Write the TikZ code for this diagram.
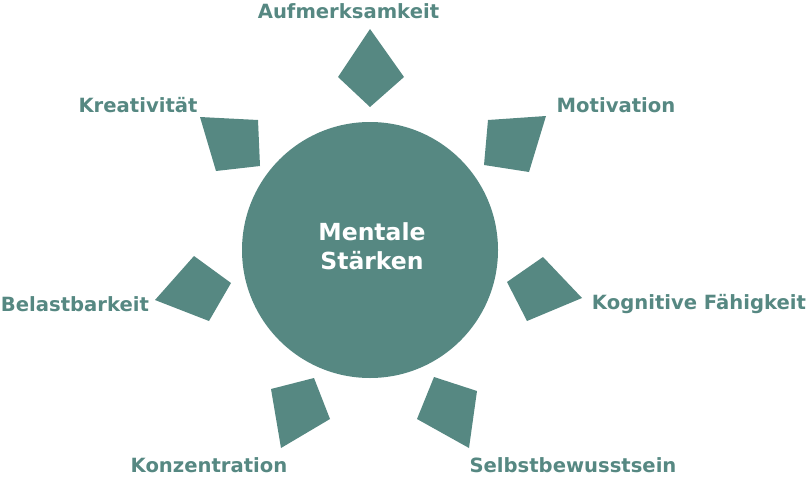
\documentclass[tikz,border=0pt]{standalone}
\usepackage{fontspec}
\setmainfont{DejaVu Sans}
\definecolor{teal1}{HTML}{568882}
\begin{document}
\begin{tikzpicture}[x=1pt,y=-1pt,
  lbl/.style={text=teal1,font=\fontsize{19.6}{23}\selectfont\bfseries,inner sep=0pt},
  petal/.style={fill=teal1,draw=none}]
\useasboundingbox (0,0) rectangle (808,479);
\node[circle,fill=teal1,minimum size=256pt,inner sep=0pt] (hub) at (370,250) {};
\node[text=white,font=\fontsize{23.5}{29}\selectfont\bfseries,align=center,inner sep=0pt] (title) at (372,246) {Mentale\\Stärken};
\fill[petal] (370,29) -- (404,77) -- (370,107) -- (338,77) -- cycle;
\fill[petal] (200,117) -- (258,120) -- (260,166) -- (216,171) -- cycle;
\fill[petal] (488,120) -- (546,116) -- (529,172) -- (484,165) -- cycle;
\fill[petal] (194,256) -- (231,283) -- (209,321) -- (155,300) -- cycle;
\fill[petal] (543,257) -- (582,298) -- (527,321) -- (507,282) -- cycle;
\fill[petal] (271,389) -- (314,378) -- (330,419) -- (281,448) -- cycle;
\fill[petal] (434,377) -- (477,391) -- (469,448) -- (417,419) -- cycle;
\node[lbl] (l1) at (348.5,11) {Aufmerksamkeit};
\node[lbl] (l2) at (138,105) {Kreativität};
\node[lbl] (l3) at (616,105) {Motivation};
\node[lbl] (l4) at (75,304) {Belastbarkeit};
\node[lbl] (l5) at (699,304) {Kognitive Fähigkeit};
\node[lbl] (l6) at (209,465) {Konzentration};
\node[lbl] (l7) at (573,465) {Selbstbewusstsein};
\end{tikzpicture}
\end{document}
